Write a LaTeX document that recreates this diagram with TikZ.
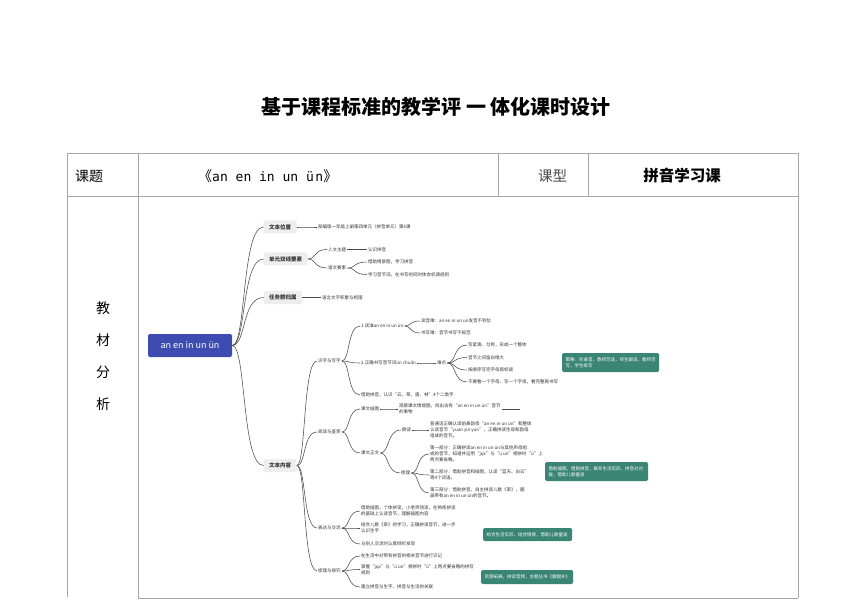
\documentclass[tikz,border=0pt]{standalone}
\usepackage{fontspec}
\setmainfont{Noto Sans CJK SC}
\newfontfamily\monofnt{DejaVu Sans Mono}
\usetikzlibrary{calc}
\definecolor{txt}{HTML}{333333}
\definecolor{linec}{HTML}{4A4A4A}
\definecolor{gridc}{HTML}{A8A8A8}
\definecolor{lonefill}{HTML}{EEEEEE}
\definecolor{rootc}{RGB}{62,76,178}
\definecolor{tealc}{RGB}{58,133,116}
\newcommand\mlink[2]{\draw[mml] let \p1=(#1.east), \p2=(#2.west), \n1={\x2-\x1} in (\p1) .. controls ($(\p1)+(0.45*\n1,0)$) and ($(\p1|-\p2)+(0.3*\n1,0)$) .. (\p2);}
\begin{document}
\begin{tikzpicture}[x=1pt,y=-1pt,
  mml/.style={draw=linec, line width=0.55pt},
  gridline/.style={draw=gridc, line width=0.8pt},
  rootbox/.style={fill=rootc, rounded corners=2pt, text=white, font=\fontsize{9}{10}\selectfont, minimum width=84pt, minimum height=23pt, inner sep=0pt},
  lone/.style={fill=lonefill, rounded corners=1.5pt, text=txt, font=\fontsize{5.5}{6}\selectfont\bfseries, inner xsep=5.5pt, inner ysep=0pt, minimum height=13pt, anchor=west},
  tx/.style={text=txt, font=\fontsize{4.5}{6}\selectfont, inner sep=1pt, anchor=west, align=left},
  tealbox/.style={fill=tealc, rounded corners=1.5pt, text=white, font=\fontsize{4.5}{6}\selectfont, align=left, inner xsep=3.5pt, inner ysep=0pt},
  head/.style={font=\fontsize{14}{16}\selectfont, text=black, inner sep=0pt}
]
\useasboundingbox (0,0) rectangle (861,609);
\fill[white] (0,0) rectangle (861,609);

% title
\node[font=\fontsize{20}{24}\selectfont\bfseries, inner sep=0pt] (title) at (436,107) {基于课程标准的教学评 一 体化课时设计};

% table
\draw[gridline] (67,153) -- (798,153);
\draw[gridline] (67,196) -- (798,196);
\draw[gridline] (138,598) -- (798,598);
\draw[gridline] (67,153) -- (67,597);
\draw[gridline] (138,153) -- (138,598);
\draw[gridline] (498,153) -- (498,196);
\draw[gridline] (588,153) -- (588,196);
\draw[gridline] (798,153) -- (798,598);

\node[head, anchor=west] (kt) at (75,176) {课题};
\node[head, anchor=west] (kname) at (198,176) {《{\monofnt\fontsize{13}{15}\selectfont an en in un ü\hspace{1.5pt}n}》};
\node[head, anchor=west, text=black!70, font=\fontsize{14.5}{16}\selectfont] (kx) at (538,176) {课型};
\node[head, font=\fontsize{15.5}{17}\selectfont\bfseries] (kxv) at (682,176) {拼音学习课};

\node[head] (j1) at (103,308) {教};
\node[head] (j2) at (103,340) {材};
\node[head] (j3) at (103,372) {分};
\node[head] (j4) at (103,404) {析};

% mind map
\node[rootbox] (root) at (190,345.5) {an en in un ün};

\node[lone] (La) at (263.5,227) {文本位置};
\node[lone] (Lb) at (263.5,259) {单元双线要素};
\node[lone] (Lc) at (263.5,297.5) {任务群归属};
\node[lone] (Ld) at (263.5,465.5) {文本内容};

\node[tx] (ta) at (317,227) {部编版一年级上册第四单元（拼音单元）第6课};
\node[tx] (tb1) at (327,249.5) {人文主题};
\node[tx] (tb2) at (327,268) {语文要素};
\node[tx] (tb11) at (367,249.5) {认识拼音};
\node[tx] (tb21) at (367,262) {借助情景图，学习拼音};
\node[tx] (tb22) at (367,274.5) {学习音节词，在书写的同时体会标调规则};
\node[tx] (tc) at (321,297.5) {语言文字积累与梳理};

\node[tx] (s1) at (317,361) {识字与写字};
\node[tx] (s2) at (317,432) {阅读与鉴赏};
\node[tx] (s3) at (317,528) {表达与交流};
\node[tx] (s4) at (317,571) {梳理与探究};

\node[tx] (a1) at (360,326) {1.读准an en in un ün};
\node[tx] (a2) at (360,363) {2.正确书写音节词ün chuán};
\node[tx] (a3) at (360,395) {借助拼音，认识“云、草、唐、林”4个二类字};
\node[tx] (a11) at (420,321) {读音难：an en in un ün发音不到位};
\node[tx] (a12) at (420,333) {书写难：音节书写不规范};
\node[tx] (nd) at (436,363) {难点};
\node[tx] (nd1) at (467,345) {写紧凑、匀称，形成一个整体};
\node[tx] (nd2) at (467,357.5) {音节之间留白稍大};
\node[tx] (nd3) at (467,370) {按顺序写完字母再标调};
\node[tx] (nd4) at (467,382) {不要看一个字母、写一个字母，看完整再书写};

\node[tx] (b1) at (360,409) {课文插图};
\node[tx] (b1t) at (398,409) {观察课文情境图，找出含有“an en in un ün”音节\\的事物};
\coordinate (b1end) at ([xshift=18pt]b1t.east);
\node[tx] (b2) at (360,453) {课文正文};
\node[tx] (b21) at (401,430) {朗读};
\node[tx] (b21t) at (429,430) {普通话正确认读前鼻韵母“an en in un ün”和整体\\认读音节“yuan yin yun”，正确拼读生母和韵母\\组成的音节。};
\node[tx] (b22) at (400,473) {梳理};
\node[tx] (b22a) at (429,454) {第一部分：正确拼读an en in un ün与其他声母组\\成的音节，知道并运用“jqx”与“ü ün”相拼时“ü”上\\两点要省略。};
\node[tx] (b22b) at (429,475) {第二部分：借助拼音和插图，认读“蓝天、白云”\\等4个词语。};
\node[tx] (b22c) at (429,493) {第三部分：借助拼音，自主拼读儿歌《家》，圈\\画带有an en in un ün的音节。};

\node[tx] (c1) at (360,511) {借助插图，个体拼读，小老师领读，在熟练拼读\\的基础上认读音节，理解插图内容};
\node[tx] (c2) at (360,528) {结合儿歌《家》的学习，正确拼读音节，进一步\\认识生字};
\node[tx] (c3) at (360,544) {与别人交流时认真倾听发现};

\node[tx] (d1) at (360,556) {在生活中对带有拼音的相关音节进行识记};
\node[tx] (d2) at (360,569.5) {掌握“jqx”与“ü ün”相拼时“ü”上两点要省略的拼写\\规则};
\node[tx] (d3) at (360,587) {建立拼音与生字、拼音与生活的关联};

% teal boxes
\node[tealbox, minimum width=97pt, minimum height=19pt, text width=90pt] (T1) at (610.5,362.5) {策略：听录音，教师范读，师生跟读，教师范\\写，学生练写};
\node[tealbox, minimum width=103pt, minimum height=19pt, text width=96pt] (T2) at (596.5,471.5) {借助插图，借助拼音，联系生活实际，拼音对对\\碰，借助儿歌童谣};
\node[tealbox, minimum width=89pt, minimum height=13pt, text width=82pt] (T3) at (527.5,534.5) {结合生活实际、结合情境，借助儿歌童谣};
\node[tealbox, minimum width=92pt, minimum height=14pt, text width=85pt] (T4) at (527,577) {资源拓展，拼读音频，主题丛书《甜甜乡》};

% links
\mlink{root}{La}
\mlink{root}{Lb}
\mlink{root}{Lc}
\mlink{root}{Ld}
\mlink{La}{ta}
\mlink{Lb}{tb1}
\mlink{Lb}{tb2}
\mlink{tb1}{tb11}
\mlink{tb2}{tb21}
\mlink{tb2}{tb22}
\mlink{Lc}{tc}
\mlink{Ld}{s1}
\mlink{Ld}{s2}
\mlink{Ld}{s3}
\mlink{Ld}{s4}
\mlink{s1}{a1}
\mlink{s1}{a2}
\mlink{s1}{a3}
\mlink{a1}{a11}
\mlink{a1}{a12}
\mlink{a2}{nd}
\mlink{nd}{nd1}
\mlink{nd}{nd2}
\mlink{nd}{nd3}
\mlink{nd}{nd4}
\mlink{s2}{b1}
\mlink{s2}{b2}
\mlink{b1}{b1t}
\draw[mml] (b1t.east) -- (b1end);
\mlink{b2}{b21}
\mlink{b2}{b22}
\mlink{b21}{b21t}
\mlink{b22}{b22a}
\mlink{b22}{b22b}
\mlink{b22}{b22c}
\mlink{s3}{c1}
\mlink{s3}{c2}
\mlink{s3}{c3}
\mlink{s4}{d1}
\mlink{s4}{d2}
\mlink{s4}{d3}
\end{tikzpicture}
\end{document}
